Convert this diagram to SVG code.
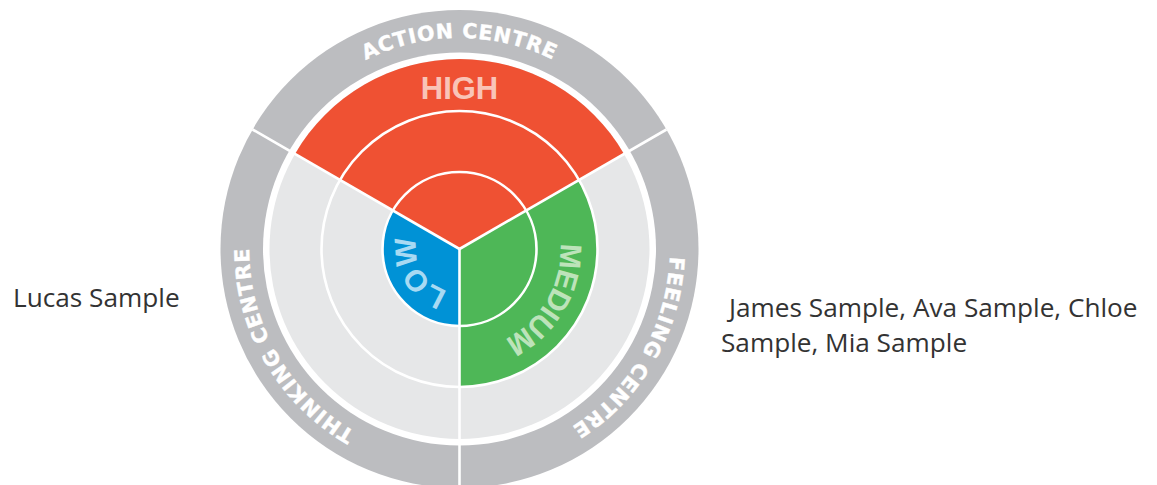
<svg xmlns="http://www.w3.org/2000/svg" width="1157" height="485" viewBox="0 0 1157 485">
<style>
.ring{font-family:"DejaVu Sans",sans-serif;font-weight:bold;font-size:20.5px;fill:#ffffff;letter-spacing:0.8px;stroke:#ffffff;stroke-width:0.4}
.lvl{font-family:"Liberation Sans",Arial,sans-serif;font-weight:bold;font-size:30px;letter-spacing:-0.8px}
.lbl{font-family:"Open Sans","Noto Sans",sans-serif;font-size:26.2px;fill:#333333}
.wl{stroke:#ffffff;stroke-width:2.6;fill:none}
</style>
<defs>
<path id="pAction" d="M 248.5 249 A 211 211 0 0 1 670.5 249"/>
<path id="pFeeling" d="M 565 66.27 A 211 211 0 0 1 354 431.73"/>
<path id="pThinking" d="M 565 431.73 A 211 211 0 0 1 354 66.27"/>
<path id="pMedium" d="M 510 161.53 A 101 101 0 0 1 409 336.47"/>
<path id="pLow" d="M 481.5 287.1 A 44 44 0 0 1 437.5 210.9"/>
</defs>
<rect width="1157" height="485" fill="#ffffff"/>
<g id="outer-ring">
<circle cx="459.5" cy="249" r="239" fill="#bcbdc0"/>
<circle cx="459.5" cy="249" r="196.5" fill="#ffffff"/>
<circle cx="459.5" cy="249" r="190" fill="#e6e7e8"/>
</g>
<g id="high">
<path d="M 459.5 249 L 295 154 A 190 190 0 0 1 624 154 Z" fill="#ef5133"/>
</g>
<g id="medium">
<path d="M 459.5 249 L 579.01 180 A 138 138 0 0 1 459.5 387 Z" fill="#4eb757"/>
</g>
<g id="low">
<path d="M 459.5 249 L 459.5 326 A 77 77 0 0 1 392.82 210.5 Z" fill="#0092d6"/>
</g>
<g id="rings">
<circle class="wl" cx="459.5" cy="249" r="138"/>
<circle class="wl" cx="459.5" cy="249" r="77"/>
</g>
<g id="dividers">
<line class="wl" x1="459.5" y1="249" x2="252.5" y2="129.5"/>
<line class="wl" x1="459.5" y1="249" x2="666.5" y2="129.5"/>
<line class="wl" x1="459.5" y1="249" x2="459.5" y2="490"/>
</g>
<g id="ring-labels">
<text class="ring"><textPath href="#pAction" startOffset="50%" text-anchor="middle">ACTION CENTRE</textPath></text>
<text class="ring"><textPath href="#pFeeling" startOffset="50%" text-anchor="middle">FEELING CENTRE</textPath></text>
<text class="ring"><textPath href="#pThinking" startOffset="50%" text-anchor="middle">THINKING CENTRE</textPath></text>
</g>
<g id="level-labels">
<text class="lvl" x="459.5" y="99" text-anchor="middle" fill="#f9c4b7" style="font-size:31px;letter-spacing:0">HIGH</text>
<text class="lvl" fill="#bde3ba"><textPath href="#pMedium" startOffset="50%" text-anchor="middle">MEDIUM</textPath></text>
<text class="lvl" fill="#a8daf3"><textPath href="#pLow" startOffset="50%" text-anchor="middle">LOW</textPath></text>
</g>
<g id="thinking-names">
<text class="lbl" x="13" y="307">Lucas Sample</text>
</g>
<g id="feeling-names">
<text class="lbl" x="729" y="317">James Sample, Ava Sample, Chloe</text>
<text class="lbl" x="721" y="352">Sample, Mia Sample</text>
</g>
</svg>
